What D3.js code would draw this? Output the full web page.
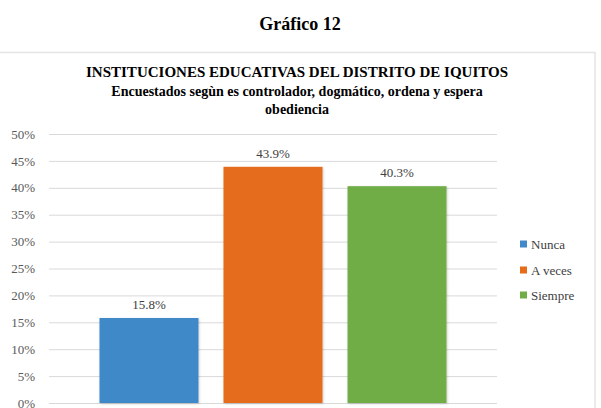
<!DOCTYPE html>
<html>
<head>
<meta charset="utf-8">
<script src="https://cdn.jsdelivr.net/npm/d3@7"></script>
<style>
html,body{margin:0;padding:0;background:#fff;}
svg{display:block;}
</style>
</head>
<body>
<svg id="chart" width="601" height="408"></svg>
<script>
const series = ["Nunca", "A veces", "Siempre"];
const values = [0.158, 0.439, 0.403];
const labels = ["15.8%", "43.9%", "40.3%"];
const colors = ["#4189C9", "#E46C1A", "#70AD47"];
const yTicks = [0, 0.05, 0.10, 0.15, 0.20, 0.25, 0.30, 0.35, 0.40, 0.45, 0.50];
const pageTitle = "Gráfico 12";
const titleLines = ["INSTITUCIONES EDUCATIVAS DEL DISTRITO DE IQUITOS",
  "Encuestados segùn es controlador, dogmático, ordena y espera",
  "obediencia"];

const FONT = "Liberation Serif";
const svg = d3.select("#chart").attr("font-family", FONT);

const plot = {left: 49, right: 497, top: 134, bottom: 403};

function txt(sel, size, weight) {
  return sel.attr("font-family", FONT).style("font-family", FONT)
    .attr("font-size", size).attr("font-weight", weight || "normal");
}

// page title
txt(svg.append("text"), 18, "bold").attr("x", 300).attr("y", 30)
  .attr("text-anchor", "middle").attr("fill", "#000").text(pageTitle);

// chart frame
svg.append("rect").attr("x", -2).attr("y", 52.5).attr("width", 597).attr("height", 400)
  .attr("fill", "none").attr("stroke", "#e4e4e4").attr("stroke-width", 1.5);

// chart titles
const ty = [77, 96, 114];
const tsz = [15, 14, 14];
titleLines.forEach((t, i) => {
  txt(svg.append("text"), tsz[i], "bold").attr("x", 297).attr("y", ty[i])
    .attr("text-anchor", "middle").attr("fill", "#000").text(t);
});

const y = d3.scaleLinear().domain([0, 0.5]).range([plot.bottom, plot.top]);
const x = d3.scaleBand().domain(series).range([plot.left, plot.right])
  .paddingInner(0.2016).paddingOuter(0.407);

// gridlines + tick labels
const yAxis = d3.axisLeft(y).tickValues(yTicks).tickFormat(d3.format(".0%"))
  .tickSize(-(plot.right - plot.left)).tickPadding(14);
const gA = svg.append("g").attr("transform", `translate(${plot.left},0)`).call(yAxis);
gA.attr("font-family", FONT).attr("font-size", 13);
gA.select(".domain").remove();
gA.selectAll(".tick line").attr("stroke", "#d9d9d9").attr("stroke-width", 1);
txt(gA.selectAll(".tick text"), 13).attr("fill", "#595959").attr("x", -14);

// subtle bar shadow
const f = svg.append("defs").append("filter").attr("id", "sh")
  .attr("x", "-10%").attr("y", "-10%").attr("width", "120%").attr("height", "120%");
f.append("feDropShadow").attr("dx", 0.8).attr("dy", 0.8).attr("stdDeviation", 1)
  .attr("flood-color", "#000").attr("flood-opacity", 0.2);

// bars
svg.append("g").selectAll("rect").data(series).join("rect")
  .attr("x", d => x(d))
  .attr("y", (d, i) => y(values[i]))
  .attr("width", x.bandwidth())
  .attr("height", (d, i) => y(0) - y(values[i]))
  .attr("fill", (d, i) => colors[i])
  .attr("filter", "url(#sh)");

// data labels
txt(svg.append("g").selectAll("text").data(series).join("text"), 13)
  .attr("x", d => x(d) + x.bandwidth() / 2)
  .attr("y", (d, i) => y(values[i]) - 9)
  .attr("text-anchor", "middle").attr("fill", "#404040")
  .text((d, i) => labels[i]);

// legend
const ly = [244, 270, 295];
const lg = svg.append("g");
series.forEach((s, i) => {
  lg.append("rect").attr("x", 520).attr("y", ly[i] - 3.5).attr("width", 7).attr("height", 7)
    .attr("fill", colors[i]);
  txt(lg.append("text"), 13).attr("x", 531).attr("y", ly[i] + 4.5)
    .attr("fill", "#404040").text(s);
});
</script>
</body>
</html>
